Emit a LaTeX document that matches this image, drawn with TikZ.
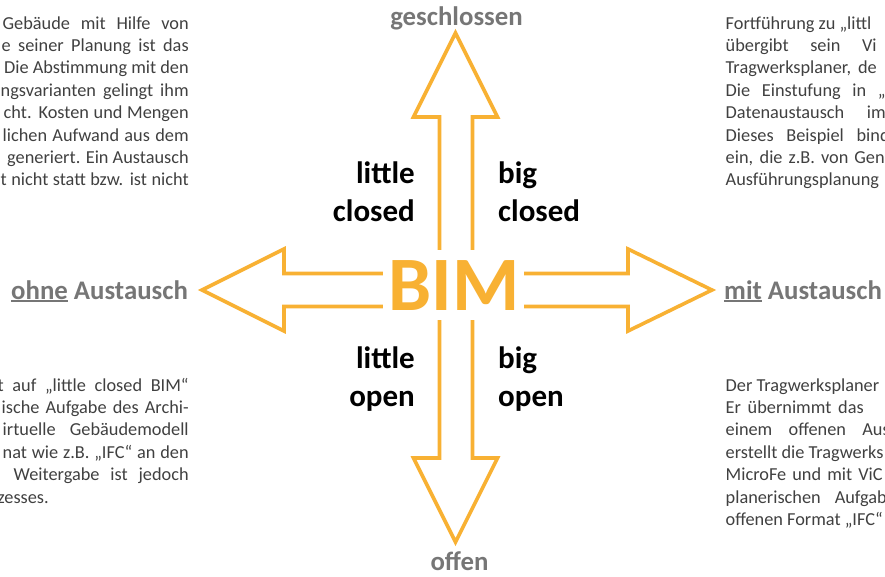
\documentclass[tikz,border=0pt]{standalone}
\usepackage{fontspec}
\setmainfont{Carlito}
\definecolor{bimorange}{RGB}{248,177,51}
\definecolor{bodygray}{RGB}{64,64,64}
\definecolor{headgray}{RGB}{118,118,118}
\newdimen\jw
% justified line ending at #2, starting at #1 (natural width if wider)
\newcommand\jR[3]{\rlap{\hspace*{#2pt}\llap{\setbox0\hbox{#3}\jw=\dimexpr #2pt-(#1pt)\relax\ifdim\wd0<\jw\hbox to\jw{#3}\else\box0\fi}}}
% justified line starting at #1, ending at #2 (natural width if wider)
\newcommand\jL[3]{\rlap{\hspace*{#1pt}\setbox0\hbox{#3}\jw=\dimexpr #2pt-(#1pt)\relax\ifdim\wd0<\jw\hbox to\jw{#3}\else\box0\fi}}
\newcommand\myul[1]{\setbox0\hbox{#1}\rlap{\rule[-3pt]{\wd0}{1.8pt}}\box0\relax}
\begin{document}
\begin{tikzpicture}[x=1pt,y=-1pt,
  arrowline/.style={draw=bimorange,line width=3.6pt,line join=miter,fill=white},
  body/.style={font=\fontsize{18.3}{22}\selectfont,text=bodygray,inner sep=0pt,anchor=base west},
  head/.style={font=\fontsize{26.8}{30}\selectfont\bfseries,text=headgray,inner sep=0pt},
  quad/.style={font=\fontsize{31}{36}\selectfont\bfseries,text=black,inner sep=0pt},
]
\useasboundingbox (0,0) rectangle (885,576);
% arrows
\draw[arrowline] (439.5,117) -- (413.5,117) -- (455.5,33) -- (497.5,117) -- (472.5,117)
  -- (472.5,458) -- (497.5,458) -- (455.5,542) -- (413.5,458) -- (439.5,458) -- cycle;
\draw[arrowline] (284,273.5) -- (284,249) -- (202,290) -- (284,331) -- (284,306.5)
  -- (628,306.5) -- (628,331) -- (712,290) -- (628,249) -- (628,273.5) -- cycle;
\node[fill=white,minimum width=141pt,minimum height=70pt,inner sep=0pt] (bimbg) at (453.5,285) {};
\node[font=\fontsize{77}{80}\selectfont\bfseries,text=bimorange,anchor=base,inner sep=0pt] (bim) at (454,310.7) {BIM};
% headings
\node[head,anchor=base] (gs) at (456.5,25) {geschlossen};
\node[head,anchor=base] (of) at (459.5,570.5) {offen};
\node[head,anchor=base west] (ohne) at (11,299) {\myul{ohne} Austausch};
\node[head,anchor=base west] (mit) at (724,299) {\myul{mit} Austausch};
% quadrant labels
\node[quad,anchor=base east] (lc1) at (415,183.3) {little};
\node[quad,anchor=base east] (lc2) at (415,221.7) {closed};
\node[quad,anchor=base west] (bc1) at (498,183.3) {big};
\node[quad,anchor=base west] (bc2) at (498,221.7) {closed};
\node[quad,anchor=base east] (lo1) at (415,368.3) {little};
\node[quad,anchor=base east] (lo2) at (415,406.7) {open};
\node[quad,anchor=base west] (bo1) at (498,368.3) {big};
\node[quad,anchor=base west] (bo2) at (498,406.7) {open};
% top left
\node[body] (tl1) at (0,29) {\jR{2}{188}{Gebäude mit Hilfe von}};
\node[body] (tl2) at (0,51.4) {\jR{1}{188}{e seiner Planung ist das}};
\node[body] (tl3) at (0,73.8) {\jR{9}{188}{Die Abstimmung mit den}};
\node[body] (tl4) at (0,96.2) {\jR{0}{188}{ngsvarianten gelingt ihm}};
\node[body] (tl5) at (0,118.6) {\jR{3}{188}{cht. Kosten und Mengen}};
\node[body] (tl6) at (0,141) {\jR{2}{188}{lichen Aufwand aus dem}};
\node[body] (tl7) at (0,163.4) {\jR{18}{188}{generiert. Ein Austausch}};
\node[body] (tl8) at (0,185.8) {\jR{0}{188}{t nicht statt bzw. ist nicht}};
% top right
\node[body] (tr1) at (0,29) {\jL{725}{725}{Fortführung zu „littl}};
\node[body] (tr2) at (0,51.4) {\jL{725}{876}{übergibt sein Vi}};
\node[body] (tr3) at (0,73.8) {\jL{725}{876}{Tragwerksplaner, de}};
\node[body] (tr4) at (0,96.2) {\jL{725}{885}{Die Einstufung in „}};
\node[body] (tr5) at (0,118.6) {\jL{725}{885}{Datenaustausch im}};
\node[body] (tr6) at (0,141) {\jL{725}{889}{Dieses Beispiel bind}};
\node[body] (tr7) at (0,163.4) {\jL{725}{884}{ein, die z.B. von Gen}};
\node[body] (tr8) at (0,185.8) {\jL{725}{725}{Ausführungsplanung}};
% bottom left
\node[body] (bl1) at (0,391) {\jR{-3}{188}{t auf „little closed BIM“}};
\node[body] (bl2) at (0,413.4) {\jR{1}{188}{ische Aufgabe des Archi-}};
\node[body] (bl3) at (0,435.8) {\jR{2}{188}{irtuelle Gebäudemodell}};
\node[body] (bl4) at (0,458.2) {\jR{2}{188}{nat wie z.B. „IFC“ an den}};
\node[body] (bl5) at (0,480.6) {\jR{13}{188}{Weitergabe ist jedoch}};
\node[body] (bl6) at (0,503) {\jR{48}{48}{zesses.}};
% bottom right
\node[body] (br1) at (0,391) {\jL{725}{725}{Der Tragwerksplaner}};
\node[body] (br2) at (0,413.4) {\jL{725}{863}{Er übernimmt das}};
\node[body] (br3) at (0,435.8) {\jL{725}{889}{einem offenen Aus}};
\node[body] (br4) at (0,458.2) {\jL{725}{725}{erstellt die Tragwerks}};
\node[body] (br5) at (0,480.6) {\jL{725}{882}{MicroFe und mit ViC}};
\node[body] (br6) at (0,503) {\jL{725}{886}{planerischen Aufgab}};
\node[body] (br7) at (0,525.4) {\jL{725}{725}{offenen Format „IFC“}};
\end{tikzpicture}
\end{document}
